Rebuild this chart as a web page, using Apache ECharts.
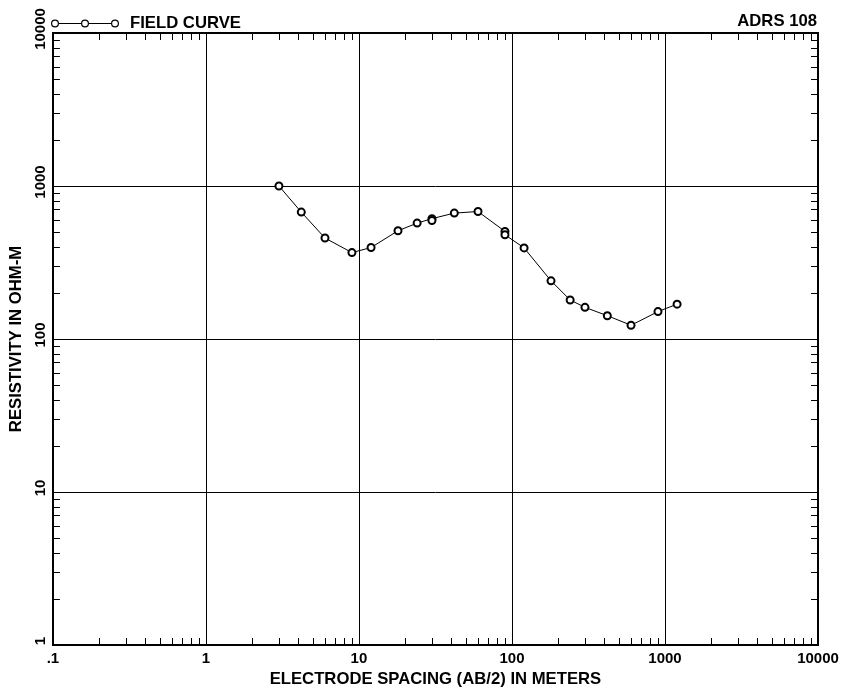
<!DOCTYPE html>
<html>
<head>
<meta charset="utf-8">
<script src="https://cdn.jsdelivr.net/npm/echarts@6/dist/echarts.min.js"></script>
<style>html,body{margin:0;padding:0;background:#fff}#c{width:845px;height:693px}</style>
</head>
<body>
<div id="c"></div>
<script>
// ---- data ----
var spacing = [3, 4.2, 6, 9, 12, 18, 24, 30, 30, 42, 60, 90, 90, 120, 180, 240, 300, 420, 600, 900, 1200];
var resistivity = [1000, 675, 457, 367, 396, 510, 572, 612, 595, 665, 681, 505, 480, 394, 240, 180, 161, 142, 123, 151, 169];
var xDecades = [0.1, 1, 10, 100, 1000, 10000];
var yDecades = [1, 10, 100, 1000, 10000];
var seriesName = 'FIELD CURVE';
var chartTitle = 'ADRS 108';
var xTitle = 'ELECTRODE SPACING (AB/2) IN METERS';
var yTitle = 'RESISTIVITY IN OHM-M';

function minorTicks(decades) {
  var out = [];
  for (var i = 0; i < decades.length - 1; i++) {
    for (var m = 2; m <= 9; m++) out.push(+(m * decades[i]).toPrecision(6));
  }
  return out;
}
var xMinor = minorTicks(xDecades);
var yMinor = minorTicks(yDecades);

var labelFont = { fontFamily: "'Liberation Sans', Arial, sans-serif", fontWeight: 'bold', fontSize: 15, color: '#000' };
var titleFont = { fontFamily: "'Liberation Sans', Arial, sans-serif", fontWeight: 'bold', fontSize: 16.7, color: '#000' };
var frameLine = { show: true, lineStyle: { color: '#000', width: 2 } };
var tickStyle = { show: true, inside: true, length: 7, lineStyle: { color: '#000', width: 1 } };

function fmt(v) {
  if (v < 1) return '.' + String(Math.round(v * 10));
  return String(Math.round(v));
}

var legendIcon = 'path://' +
  'M0,4a4,4 0 1 0 8,0a4,4 0 1 0 -8,0Z M1.2,4a2.8,2.8 0 1 1 5.6,0a2.8,2.8 0 1 1 -5.6,0Z ' +
  'M30,4a4,4 0 1 0 8,0a4,4 0 1 0 -8,0Z M31.2,4a2.8,2.8 0 1 1 5.6,0a2.8,2.8 0 1 1 -5.6,0Z ' +
  'M60,4a4,4 0 1 0 8,0a4,4 0 1 0 -8,0Z M61.2,4a2.8,2.8 0 1 1 5.6,0a2.8,2.8 0 1 1 -5.6,0Z ' +
  'M8,3.5L30,3.5L30,4.5L8,4.5Z M38,3.5L60,3.5L60,4.5L38,4.5Z';

var chart = echarts.init(document.getElementById('c'), null, { renderer: 'canvas' });
chart.setOption({
  backgroundColor: '#fff',
  animation: false,
  title: {
    text: chartTitle, right: 28, top: 13, padding: 0,
    textStyle: titleFont
  },
  legend: {
    data: [{ name: seriesName, icon: legendIcon }],
    left: 51, top: 15, padding: 0,
    itemWidth: 68, itemHeight: 8,
    itemStyle: { color: '#000', borderWidth: 0 },
    textStyle: Object.assign({}, titleFont, { padding: [0, 0, 0, 6] })
  },
  grid: { left: 50, top: 33, right: 27, bottom: 44, containLabel: false },
  xAxis: [
    {
      type: 'log', logBase: 10, min: 0.1, max: 10000, position: 'bottom',
      axisLine: frameLine,
      axisTick: { show: false, customValues: xDecades },
      axisLabel: Object.assign({ customValues: xDecades, formatter: fmt, margin: 6 }, labelFont),
      splitLine: { show: true, lineStyle: { color: '#000', width: 1 } },
      name: xTitle, nameLocation: 'middle', nameGap: 26,
      nameTextStyle: titleFont
    },
    {
      type: 'log', logBase: 10, min: 0.1, max: 10000, position: 'bottom',
      axisLine: frameLine,
      axisTick: Object.assign({ customValues: xMinor }, tickStyle),
      axisLabel: { show: false },
      splitLine: { show: false }
    },
    {
      type: 'log', logBase: 10, min: 0.1, max: 10000, position: 'top',
      axisLine: frameLine,
      axisTick: Object.assign({ customValues: xMinor }, tickStyle),
      axisLabel: { show: false },
      splitLine: { show: false }
    }
  ],
  yAxis: [
    {
      type: 'log', logBase: 10, min: 1, max: 10000, position: 'left',
      axisLine: frameLine,
      axisTick: { show: false, customValues: yDecades },
      axisLabel: Object.assign({ customValues: yDecades, formatter: fmt, rotate: 90, margin: 5, padding: [0, 0, 0, 8] }, labelFont),
      splitLine: { show: true, lineStyle: { color: '#000', width: 1 } },
      name: yTitle, nameLocation: 'middle', nameGap: 21,
      nameTextStyle: titleFont
    },
    {
      type: 'log', logBase: 10, min: 1, max: 10000, position: 'left',
      axisLine: frameLine,
      axisTick: Object.assign({ customValues: yMinor }, tickStyle),
      axisLabel: { show: false },
      splitLine: { show: false }
    },
    {
      type: 'log', logBase: 10, min: 1, max: 10000, position: 'right',
      axisLine: frameLine,
      axisTick: Object.assign({ customValues: yMinor }, tickStyle),
      axisLabel: { show: false },
      splitLine: { show: false }
    }
  ],
  series: [{
    name: seriesName,
    type: 'line',
    xAxisIndex: 0, yAxisIndex: 0,
    data: spacing.map(function (x, i) { return [x, resistivity[i]]; }),
    symbol: 'emptyCircle', symbolSize: 7,
    showAllSymbol: true,
    lineStyle: { color: '#000', width: 1 },
    itemStyle: { color: '#000', borderColor: '#000', borderWidth: 1 },
    emphasis: { disabled: true }
  }]
});
</script>
</body>
</html>
